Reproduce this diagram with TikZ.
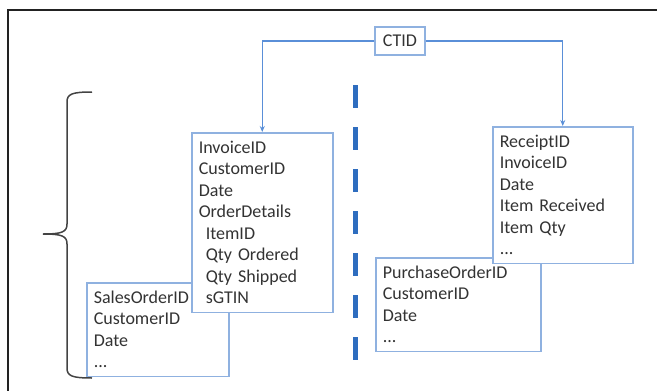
\documentclass[tikz,border=0pt]{standalone}
\usepackage{fontspec}
\setmainfont{Carlito}[WordSpace=0.6]
\usetikzlibrary{arrows.meta}

\definecolor{boxblue}{HTML}{8FB1E0}
\definecolor{linkblue}{HTML}{5A8FD8}
\definecolor{dashblue}{HTML}{2E6DBF}
\definecolor{textgray}{HTML}{333333}
\definecolor{framegray}{HTML}{222222}

\newcommand{\topgap}{\rule{0pt}{20.5pt}}
\newcommand{\botgap}{\rule[-8.5pt]{0pt}{8.5pt}}

\begin{document}
\begin{tikzpicture}[x=1pt,y=-1pt,
  tbl/.style={draw=boxblue, line width=1.5pt, fill=white, anchor=north west,
    align=left, inner xsep=7pt, inner ysep=0pt, text=textgray,
    font=\fontsize{18}{21.5}\selectfont},
  link/.style={draw=linkblue, line width=1.3pt, -{Stealth[length=6pt,width=5pt]}}]
\useasboundingbox (0,0) rectangle (657,391);
% frame
\draw[line width=2pt, framegray] (8,391) -- (8,10) -- (657,10);
% brace
\draw[line width=1.5pt, framegray!85] (92,92) .. controls (72,92) and (67,94) .. (67,102)
  -- (67,224) .. controls (67,232) and (62,234) .. (43,234)
  .. controls (62,234) and (67,236) .. (67,244)
  -- (67,368) .. controls (67,376) and (72,378) .. (92,378);
% divider
\draw[dashblue, line width=5pt, dash pattern=on 23pt off 19pt] (355,85) -- (355,360);

% tables
\node[tbl, text width=128pt] (salesorder) at (86,282)
  {\topgap SalesOrderID\\CustomerID\\Date\\...\botgap};
\node[tbl, text width=127pt] (invoice) at (191,132)
  {\topgap InvoiceID\\CustomerID\\Date\\OrderDetails\\\hspace{7pt}ItemID\\
   \hspace{7pt}Qty Ordered\\\hspace{7pt}Qty Shipped\\\hspace{7pt}sGTIN\botgap};
\node[tbl, text width=151pt] (purchaseorder) at (375,257)
  {\topgap PurchaseOrderID\\CustomerID\\Date\\...\botgap};
\node[tbl, text width=126pt] (receipt) at (492,126)
  {\topgap ReceiptID\\InvoiceID\\Date\\Item Received\\Item Qty\\...\botgap};

\node[draw=boxblue, line width=1.5pt, fill=white, minimum width=50pt, minimum height=28pt,
  text=textgray, font=\fontsize{18}{21.5}\selectfont] (ctid) at (400,41) {CTID};

\draw[link] (ctid.west) -| (invoice.north);
\draw[link] (ctid.east) -| (receipt.north);
\end{tikzpicture}
\end{document}
